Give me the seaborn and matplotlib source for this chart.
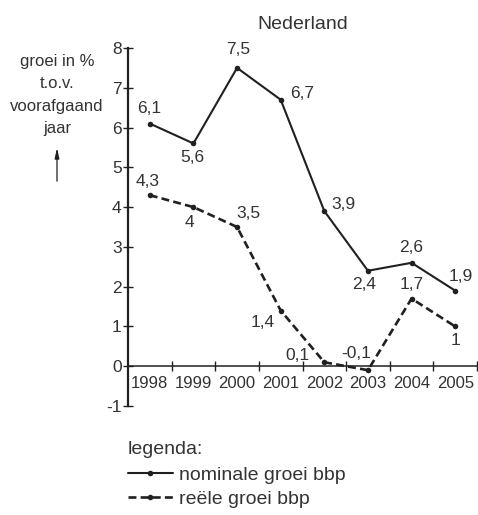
import matplotlib
matplotlib.use("Agg")
import matplotlib.pyplot as plt
import seaborn as sns
import pandas as pd

# ---- data ----
years = [1998, 1999, 2000, 2001, 2002, 2003, 2004, 2005]
nominale = [6.1, 5.6, 7.5, 6.7, 3.9, 2.4, 2.6, 1.9]
reele = [4.3, 4.0, 3.5, 1.4, 0.1, -0.1, 1.7, 1.0]
y_ticks = [-1, 0, 1, 2, 3, 4, 5, 6, 7, 8]
title = "Nederland"
ylabel = "groei in %\nt.o.v.\nvoorafgaand\njaar"
label_nom = "nominale groei bbp"
label_reel = "reële groei bbp"
legend_title = "legenda:"

# label offsets (pixels)
off_nom = [(-1, 15), (-1, -14), (1, 18), (21, 6), (19, 7), (-4, -14), (0, 15), (6, 14)]
off_reel = [(-2, 14), (-4, -15), (11, 13), (-18, -12), (-27, 7), (-12, 17), (0, 14), (0, -14)]

sns.set_style("ticks")
plt.rcParams['font.family'] = ['Liberation Sans', 'DejaVu Sans']
plt.rcParams['axes.unicode_minus'] = False
INK = "#231f20"
TXT = "#333333"

df = pd.DataFrame({"jaar": years, "nom": nominale, "reel": reele})

fig = plt.figure(figsize=(4.78, 5.15), dpi=100)
W, H = 478, 515
x0, x1 = 128, 477
y_top, y_bot = 48, 406
ax = fig.add_axes([x0 / W, 1 - y_bot / H, (x1 - x0) / W, (y_bot - y_top) / H])

sns.lineplot(data=df, x="jaar", y="nom", ax=ax, color=INK, lw=1.5,
             marker="o", markersize=4, markeredgewidth=0, label=label_nom)
sns.lineplot(data=df, x="jaar", y="reel", ax=ax, color=INK, lw=1.9,
             linestyle=(0, (3, 1.6)), marker="o", markersize=4,
             markeredgewidth=0, label=label_reel)

def fmt(v):
    return ("%g" % v).replace(".", ",")

for xs, ys, offs in [(years, nominale, off_nom), (years, reele, off_reel)]:
    for x, y, (dx, dy) in zip(xs, ys, offs):
        ax.annotate(fmt(y), (x, y), xytext=(dx, dy), textcoords="offset pixels",
                    ha="center", va="center", fontsize=12.5, color=TXT)

ax.set_xlim(1997.5, 2005.5)
ax.set_ylim(-1, 8)
ax.spines["top"].set_visible(False)
ax.spines["right"].set_visible(False)
ax.spines["bottom"].set_position(("data", 0))
for s in ["left", "bottom"]:
    ax.spines[s].set_color(INK)
ax.spines["left"].set_linewidth(1.6)
ax.spines["bottom"].set_linewidth(1.1)

ax.set_yticks(y_ticks)
ax.set_yticklabels([str(t) for t in y_ticks])
ax.tick_params(axis="y", direction="inout", length=7, width=1.0, colors=INK,
               labelcolor=TXT, labelsize=12.5, pad=1)

# major x ticks at year boundaries, labels at years
ax.set_xticks([y + 0.5 for y in years])
ax.set_xticklabels([])
ax.set_xticks(years, minor=True)
ax.set_xticklabels([str(y) for y in years], minor=True)
ax.tick_params(axis="x", which="major", direction="inout", length=7, width=1.0, colors=INK)
ax.tick_params(axis="x", which="minor", length=0, labelsize=12, labelcolor=TXT, pad=7)
ax.set_xlabel("")
ax.set_ylabel("")

ax.set_title(title, fontsize=14, color=TXT, pad=14)

fig.text(57 / W, 1 - 95 / H, ylabel, ha="center", va="center", fontsize=12,
         color=TXT, linespacing=1.62)
ax.annotate("", xy=(57 / W, 1 - 145 / H), xytext=(57 / W, 1 - 184 / H),
            xycoords="figure fraction", textcoords="figure fraction",
            arrowprops=dict(arrowstyle="-|>,head_width=0.13,head_length=0.6",
                            lw=0.9, color=INK))

leg = ax.legend(title=legend_title, loc="upper left",
                bbox_to_anchor=(128 / W, 1 - 441 / H), bbox_transform=fig.transFigure,
                frameon=False, fontsize=14, title_fontsize=14, alignment="left",
                handlelength=2.3, handletextpad=0.3, labelspacing=0.32, borderpad=0,
                borderaxespad=0)
leg._legend_box.sep = 6
for t in leg.get_texts():
    t.set_color(TXT)
leg.get_title().set_color(TXT)

fig.savefig("out.png", dpi=100)
